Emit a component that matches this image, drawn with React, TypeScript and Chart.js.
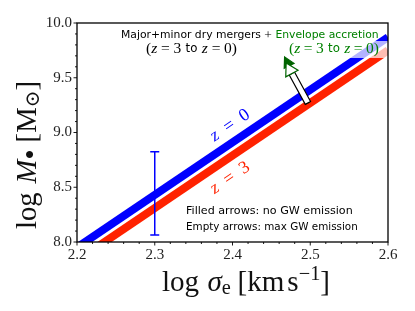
import React, { useEffect, useRef } from "react";
import { Chart, registerables } from "chart.js";
Chart.register(...registerables);

// ---- data ----
const xRange = [2.2, 2.6];
const yRange = [8.0, 10.0];
const xTicks = [2.2, 2.3, 2.4, 2.5, 2.6];
const yTicks = [8.0, 8.5, 9.0, 9.5, 10.0];
const lineX = [2.2, 2.6];
const z0Y = [7.95, 9.87];
const z3Y = [7.83, 9.75];
const errX = [2.3];
const errLow = [8.065];
const errHigh = [8.825];
const arrowTail = [2.497, 9.27];
const filledTip = [2.467, 9.69];
const emptyTip = [2.469, 9.635];

const BLUE = "#0000ff";
const RED = "#ff2200";
const GREEN = "#008000";
const DGREEN = "#006400";
const SERIF = '"Liberation Serif", "DejaVu Serif", serif';
const SANS = '"DejaVu Sans", sans-serif';

type Run = { t: string; it?: boolean; sans?: boolean; sc?: number; dy?: number; c?: string; g?: number };

function fontOf(r: Run, size: number) {
  return `${r.it ? "italic " : ""}${size * (r.sc || 1)}px ${r.sans ? SANS : SERIF}`;
}
function measure(ctx: CanvasRenderingContext2D, runs: Run[], size: number) {
  let w = 0;
  for (const r of runs) {
    ctx.font = fontOf(r, size);
    w += ctx.measureText(r.t).width;
  }
  return w;
}
function fit(ctx: CanvasRenderingContext2D, runs: Run[], target: number, base = 20) {
  return (base * target) / measure(ctx, runs, base);
}
function drawRuns(
  ctx: CanvasRenderingContext2D, runs: Run[], x: number, y: number, size: number,
  align: "left" | "center", color = "#000", target = 0
) {
  const nat = measure(ctx, runs, size);
  const sumG = runs.reduce((a, r) => a + (r.g || 0), 0);
  const per = target > 0 && sumG > 0 ? (target - nat) / sumG : 0;
  const w = nat + per * sumG;
  let cx = align === "center" ? x - w / 2 : x;
  ctx.textBaseline = "middle";
  ctx.textAlign = "left";
  for (const r of runs) {
    ctx.font = fontOf(r, size);
    ctx.fillStyle = r.c || color;
    ctx.fillText(r.t, cx, y + (r.dy || 0) * size);
    cx += ctx.measureText(r.t).width + per * (r.g || 0);
  }
}

function drawArrow(ctx: CanvasRenderingContext2D, tx: number, ty: number, hx: number, hy: number, shaftW: number, headL: number, headW: number, fill: string, stroke: string, headStroke: string) {
  const dx = hx - tx, dy = hy - ty;
  const L = Math.hypot(dx, dy);
  const ux = dx / L, uy = dy / L;
  const nx = -uy, ny = ux;
  const bx = hx - ux * headL, by = hy - uy * headL;
  ctx.beginPath();
  ctx.moveTo(tx + nx * shaftW / 2, ty + ny * shaftW / 2);
  ctx.lineTo(bx + nx * shaftW / 2, by + ny * shaftW / 2);
  ctx.lineTo(bx - nx * shaftW / 2, by - ny * shaftW / 2);
  ctx.lineTo(tx - nx * shaftW / 2, ty - ny * shaftW / 2);
  ctx.closePath();
  ctx.fillStyle = fill;
  ctx.fill();
  ctx.lineWidth = 1.2;
  ctx.strokeStyle = stroke;
  ctx.stroke();
  ctx.beginPath();
  ctx.moveTo(hx, hy);
  ctx.lineTo(bx + nx * headW, by + ny * headW);
  ctx.lineTo(bx - nx * headW, by - ny * headW);
  ctx.closePath();
  ctx.fillStyle = fill;
  ctx.fill();
  ctx.strokeStyle = headStroke;
  ctx.stroke();
}

const overlay = {
  id: "overlay",
  afterDatasetsDraw(chart: any) {
    const ctx: CanvasRenderingContext2D = chart.ctx;
    const xs = chart.scales.x, ys = chart.scales.y;
    const ca = chart.chartArea;
    ctx.save();
    // error bar
    ctx.strokeStyle = BLUE;
    ctx.lineWidth = 1.5;
    for (let i = 0; i < errX.length; i++) {
      const px = xs.getPixelForValue(errX[i]);
      const p1 = ys.getPixelForValue(errLow[i]);
      const p2 = ys.getPixelForValue(errHigh[i]);
      ctx.beginPath();
      ctx.moveTo(px, p1); ctx.lineTo(px, p2);
      ctx.moveTo(px - 4.5, p1); ctx.lineTo(px + 4.5, p1);
      ctx.moveTo(px - 4.5, p2); ctx.lineTo(px + 4.5, p2);
      ctx.stroke();
    }
    // translucent box behind green subtitle
    ctx.fillStyle = "rgba(255,255,255,0.7)";
    ctx.fillRect(287, 41, ca.right - 287, 17);
    // arrows
    const tx = xs.getPixelForValue(arrowTail[0]), ty = ys.getPixelForValue(arrowTail[1]);
    drawArrow(ctx, tx, ty, xs.getPixelForValue(filledTip[0]), ys.getPixelForValue(filledTip[1]), 3, 10, 5.5, DGREEN, DGREEN, DGREEN);
    drawArrow(ctx, tx, ty, xs.getPixelForValue(emptyTip[0]), ys.getPixelForValue(emptyTip[1]), 6, 12, 7, "#fff", "#000", DGREEN);
    ctx.restore();
  },
  afterDraw(chart: any) {
    const ctx: CanvasRenderingContext2D = chart.ctx;
    const xs = chart.scales.x, ys = chart.scales.y;
    const ca = chart.chartArea;
    ctx.save();
    // frame
    ctx.strokeStyle = "#000";
    ctx.lineWidth = 1.3;
    ctx.strokeRect(ca.left, ca.top, ca.right - ca.left, ca.bottom - ca.top);
    // ticks (outward)
    ctx.lineWidth = 0.9;
    ctx.beginPath();
    for (let k = 0; k <= 20; k++) {
      const v = xRange[0] + k * 0.02;
      const px = xs.getPixelForValue(v);
      const len = k % 5 === 0 ? 3.5 : 2;
      ctx.moveTo(px, ca.bottom); ctx.lineTo(px, ca.bottom + len);
    }
    for (let k = 0; k <= 20; k++) {
      const v = yRange[0] + k * 0.1;
      const py = ys.getPixelForValue(v);
      const len = k % 5 === 0 ? 3.5 : 2;
      ctx.moveTo(ca.left, py); ctx.lineTo(ca.left - len, py);
    }
    ctx.stroke();

    // title texts
    const title: Run[] = [
      { t: "Major+minor dry mergers ", sans: true },
      { t: "+", sc: 1.25 },
      { t: " Envelope accretion", sans: true, c: GREEN },
    ];
    drawRuns(ctx, title, 121, 35.5, fit(ctx, title, 258), "left");
    const sub = (c: string): Run[] => [
      { t: "(", c }, { t: "z", it: true, c, g: 1 }, { t: "=", c, g: 1 }, { t: "3", c, g: 1.2 },
      { t: "to", sans: true, sc: 0.76, c, g: 1.2 }, { t: "z", it: true, c, g: 1 }, { t: "=", c, g: 1 }, { t: "0)", c },
    ];
    drawRuns(ctx, sub("#000"), 191.5, 49, 15.5, "center", "#000", 91);
    drawRuns(ctx, sub(GREEN), 334, 49, 15.5, "center", GREEN, 90);

    // legend notes
    const l1: Run[] = [{ t: "Filled arrows: no GW emission", sans: true }];
    const l2: Run[] = [{ t: "Empty arrows: max GW emission", sans: true }];
    drawRuns(ctx, l1, 186, 211, fit(ctx, l1, 167), "left");
    drawRuns(ctx, l2, 186, 227, fit(ctx, l2, 172), "left");

    // line labels
    const ang = Math.atan2(
      ys.getPixelForValue(z0Y[1]) - ys.getPixelForValue(z0Y[0]),
      xs.getPixelForValue(lineX[1]) - xs.getPixelForValue(lineX[0])
    );
    const lab = (t: string, c: string, x: number, y: number) => {
      ctx.save();
      ctx.translate(xs.getPixelForValue(x), ys.getPixelForValue(y));
      ctx.rotate(ang);
      drawRuns(ctx, [{ t: "z", it: true, g: 1 }, { t: "=", g: 1 }, { t }], 0, 0, 18, "center", c, 44);
      ctx.restore();
    };
    lab("0", BLUE, 2.3968, 9.065);
    lab("3", RED, 2.3968, 8.585);

    // axis titles
    const xt: Run[] = [
      { t: "log", g: 1 }, { t: "σ", it: true }, { t: "e", sc: 0.7, dy: 0.2, g: 0.8 }, { t: "[km", g: 0.35 }, { t: "s" },
      { t: "−1", sc: 0.7, dy: -0.3 }, { t: "]" },
    ];
    drawRuns(ctx, xt, 246, 283, fit(ctx, xt, 150), "center", "#111", 168);
    const yt: Run[] = [
      { t: "log", g: 1 }, { t: "M", it: true }, { t: "•", sc: 1.0, dy: 0.15, g: 0.8 }, { t: "[M" },
      { t: "⊙", sc: 0.7, dy: 0.2 }, { t: "]" },
    ];
    ctx.save();
    ctx.translate(28, 155);
    ctx.rotate(-Math.PI / 2);
    drawRuns(ctx, yt, 0, 0, fit(ctx, yt, 132), "center", "#111", 148);
    ctx.restore();
    ctx.restore();
  },
};

export default function App() {
  const ref = useRef<HTMLCanvasElement>(null);
  useEffect(() => {
    document.body.style.margin = "0";
    const chart = new Chart(ref.current as HTMLCanvasElement, {
      type: "line",
      data: {
        datasets: [
          {
            data: lineX.map((x, i) => ({ x, y: z0Y[i] })),
            borderColor: BLUE,
            borderWidth: 8,
            pointRadius: 0,
            borderCapStyle: "butt",
            clip: 0,
          } as any,
          {
            data: lineX.map((x, i) => ({ x, y: z3Y[i] })),
            borderColor: RED,
            borderWidth: 8,
            pointRadius: 0,
            borderCapStyle: "butt",
            clip: 0,
          } as any,
        ],
      },
      options: {
        animation: false,
        responsive: false,
        devicePixelRatio: 1,
        layout: { padding: { top: 23, right: 27, left: 0, bottom: 0 } },
        plugins: { legend: { display: false }, tooltip: { enabled: false } },
        scales: {
          x: {
            type: "linear",
            min: xRange[0],
            max: xRange[1],
            afterBuildTicks: (s: any) => { s.ticks = xTicks.map((v) => ({ value: v })); },
            afterFit: (s: any) => { s.height = 69; },
            grid: { display: false, drawTicks: false },
            border: { display: false },
            ticks: {
              color: "#222",
              font: { family: SERIF, size: 15 },
              padding: 4,
              maxRotation: 0,
              callback: (v: any) => Number(v).toFixed(1),
            },
          },
          y: {
            type: "linear",
            min: yRange[0],
            max: yRange[1],
            afterBuildTicks: (s: any) => { s.ticks = yTicks.map((v) => ({ value: v })); },
            afterFit: (s: any) => { s.width = 77; },
            grid: { display: false, drawTicks: false },
            border: { display: false },
            ticks: {
              color: "#222",
              font: { family: SERIF, size: 15 },
              padding: 5,
              callback: (v: any) => Number(v).toFixed(1),
            },
          },
        },
      },
      plugins: [overlay],
    });
    return () => chart.destroy();
  }, []);
  return (
    <div style={{ width: 415, height: 311 }}>
      <canvas ref={ref} width={415} height={311} style={{ display: "block" }} />
    </div>
  );
}
